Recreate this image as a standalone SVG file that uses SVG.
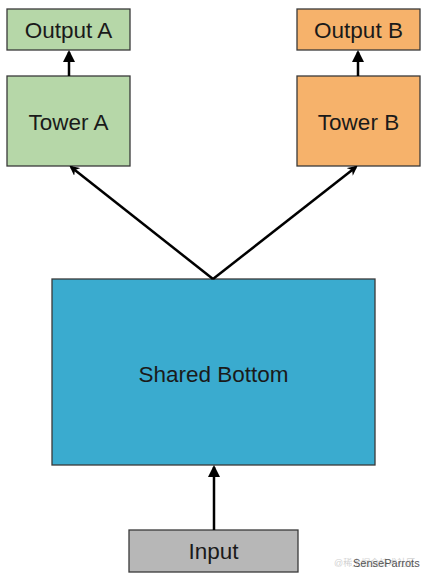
<svg xmlns="http://www.w3.org/2000/svg" width="429" height="580" viewBox="0 0 429 580">
<defs>
<style>
.box{stroke:#3a3a3a;stroke-width:1.3}
.lbl{font-family:"Liberation Sans",Arial,sans-serif;font-size:22.5px;fill:#1a1a1a;text-anchor:middle;dominant-baseline:central}
.con{stroke:#000;stroke-width:2.5;fill:none}
</style>
<marker id="ah" markerWidth="10" markerHeight="10" refX="8" refY="5" orient="auto" markerUnits="userSpaceOnUse">
<path d="M0,0 L10,5 L0,10 L3,5 Z" fill="#000"/>
</marker>
<marker id="ahs" markerWidth="12" markerHeight="12" refX="10" refY="6" orient="auto" markerUnits="userSpaceOnUse">
<path d="M0,0 L12,6 L0,12 Z" fill="#000"/>
</marker>
</defs>
<rect width="429" height="580" fill="#fff"/>
<g id="output-a"><rect class="box" x="7" y="9" width="123" height="41" fill="#b6d7a8"/><text class="lbl" x="68.5" y="30">Output A</text></g>
<g id="tower-a"><rect class="box" x="7" y="76" width="123" height="90" fill="#b6d7a8"/><text class="lbl" x="68.5" y="122">Tower A</text></g>
<g id="output-b"><rect class="box" x="297" y="9" width="123" height="41" fill="#f6b26b"/><text class="lbl" x="358.5" y="30">Output B</text></g>
<g id="tower-b"><rect class="box" x="297" y="76" width="123" height="90" fill="#f6b26b"/><text class="lbl" x="358.5" y="122">Tower B</text></g>
<g id="shared-bottom"><rect class="box" x="52" y="279" width="323" height="186" fill="#3aabcf"/><text class="lbl" x="213.5" y="374">Shared Bottom</text></g>
<g id="input"><rect class="box" x="129" y="530" width="169" height="42" fill="#b7b7b7"/><text class="lbl" x="213.5" y="551">Input</text></g>
<g id="connectors">
<line class="con" x1="69" y1="76" x2="69" y2="52" marker-end="url(#ahs)"/>
<line class="con" x1="358" y1="76" x2="358" y2="52" marker-end="url(#ahs)"/>
<line class="con" x1="213" y1="279" x2="71" y2="167" marker-end="url(#ah)"/>
<line class="con" x1="213" y1="279" x2="356" y2="167" marker-end="url(#ah)"/>
<line class="con" x1="214" y1="530" x2="214" y2="467" marker-end="url(#ahs)"/>
</g>
<g id="watermark" font-family="'Liberation Sans','Noto Sans CJK SC',sans-serif">
<text x="334" y="566" fill="#d2d2d2" font-size="9">@稀土掘金技术社区</text>
<text x="353" y="567" fill="#555" font-size="11">SenseParrots</text>
</g>
</svg>
